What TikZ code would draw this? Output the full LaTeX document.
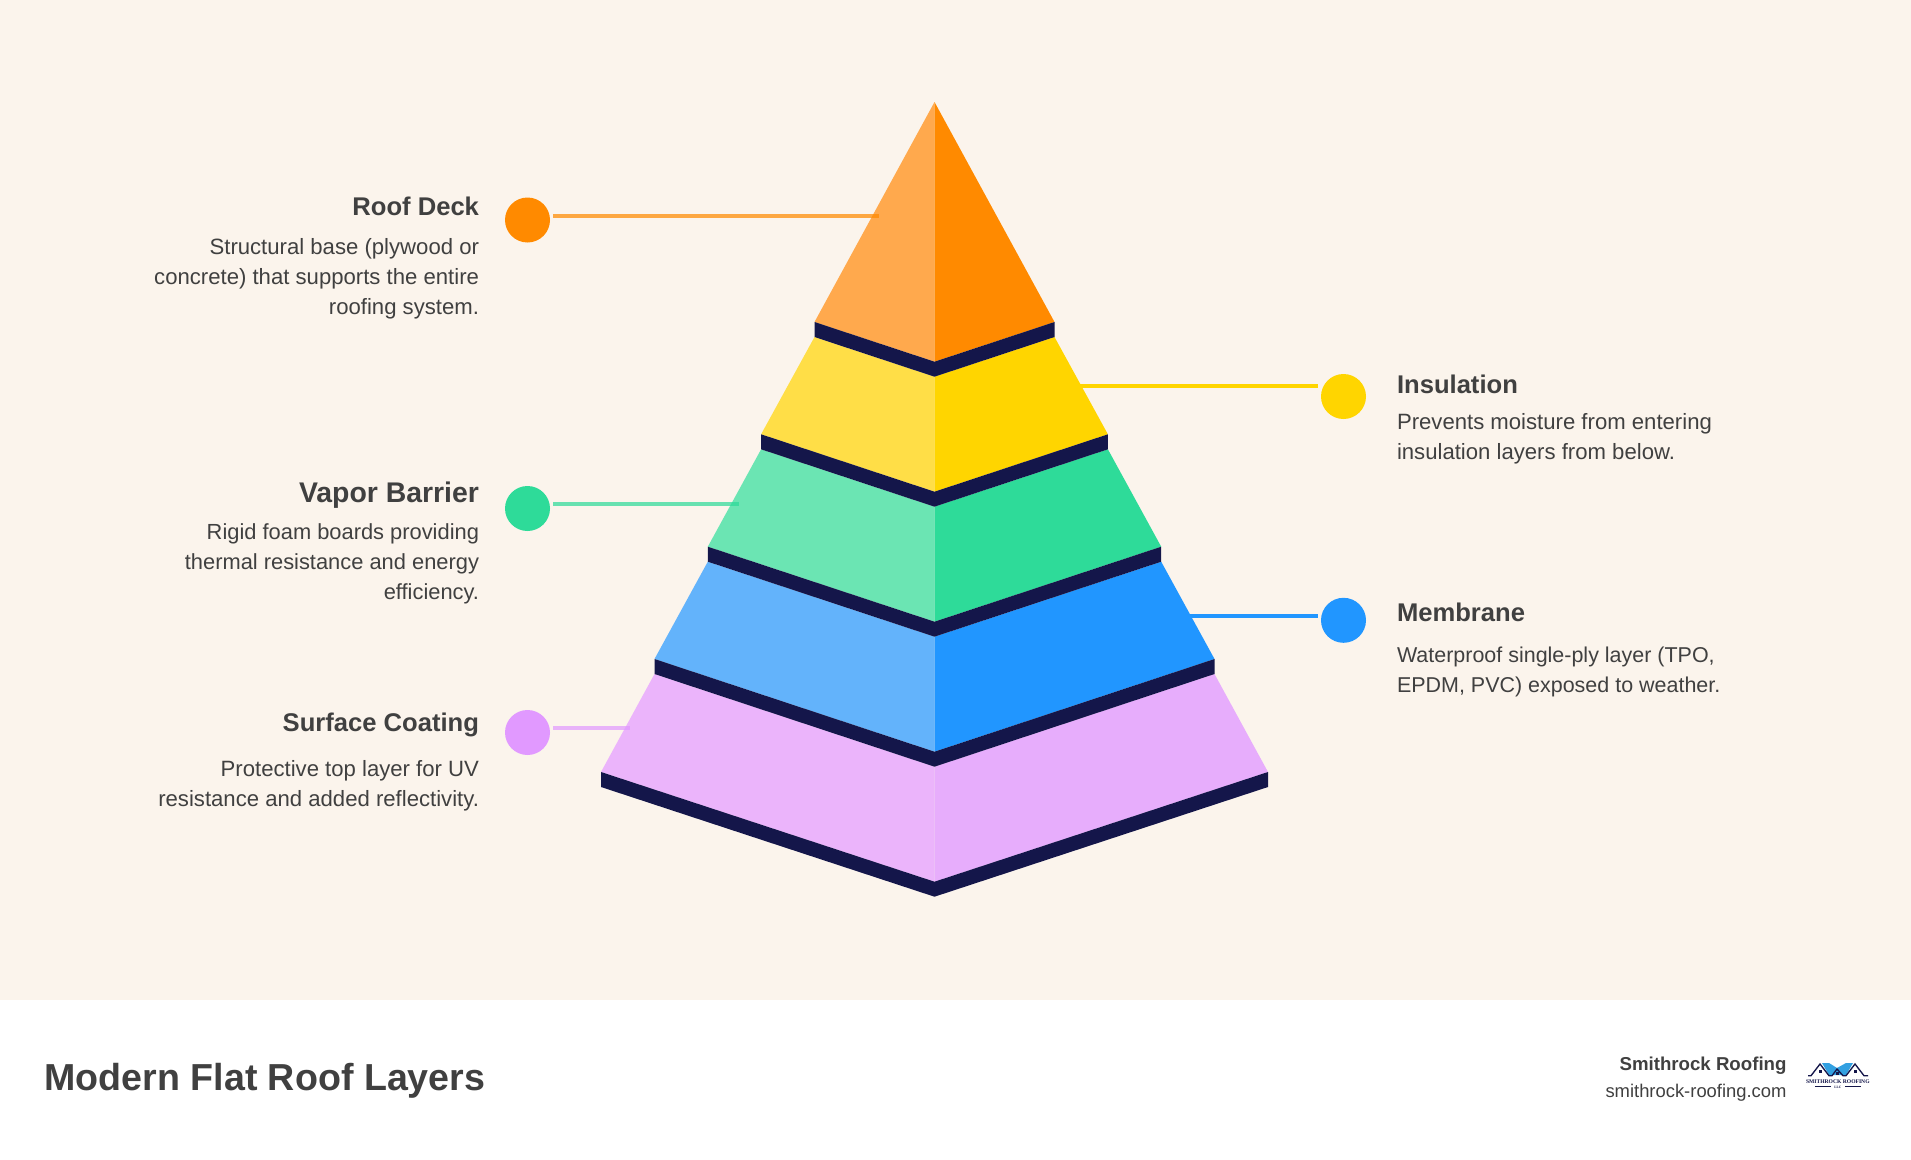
\documentclass[tikz,border=0pt]{standalone}
\usepackage{fontspec}
\setmainfont{Liberation Sans}
\newfontfamily\logofont{Liberation Serif}

\definecolor{pagebg}{RGB}{251,244,236}
\definecolor{inktext}{RGB}{64,64,64}
\definecolor{bandnavy}{RGB}{20,22,74}
\definecolor{deckleft}{RGB}{255,169,77}
\definecolor{deckright}{RGB}{255,138,0}
\definecolor{insulleft}{RGB}{255,222,71}
\definecolor{insulright}{RGB}{255,213,0}
\definecolor{vaporleft}{RGB}{107,229,179}
\definecolor{vaporright}{RGB}{46,219,153}
\definecolor{membleft}{RGB}{99,179,251}
\definecolor{membright}{RGB}{33,150,255}
\definecolor{coatleft}{RGB}{235,180,251}
\definecolor{coatright}{RGB}{231,173,252}
\definecolor{coatdot}{RGB}{225,153,255}
\definecolor{logoblue}{RGB}{50,160,225}

\tikzset{every picture/.style={line width=0.75pt},
  pindot/.style={circle,draw=none,inner sep=0pt,minimum size=33.75pt},
  lead/.style={line width=3pt,shorten <=1.9pt},
  softlead/.style={lead,opacity=0.72},
  headlabel/.style={inner sep=0pt,text=inktext,font=\fontsize{19.2}{23}\selectfont\bfseries},
  bodylabel/.style={inner sep=0pt,text=inktext,font=\fontsize{16.6}{22.5}\selectfont}
}

\begin{document}
\begin{tikzpicture}[x=0.75pt,y=0.75pt,yscale=-1,xscale=1]
        %set diagram size to the reference
        \useasboundingbox (0,0) rectangle (1911,1160);
        \fill [pagebg] (0,0) rectangle (1911,1000);
        \fill [white] (0,1000) rectangle (1911,1160);

        %Pyramid tiers, left and right faces
        \fill [deckleft] (934.5,102) -- (814.5,322) -- (934.5,361.7) -- cycle;
        \fill [deckright] (934.5,102) -- (1054.5,322) -- (934.5,361.7) -- cycle;
        \fill [insulleft] (814.5,337) -- (934.5,376.7) -- (934.5,491.7) -- (761.1,434.3) -- cycle;
        \fill [insulright] (1054.5,337) -- (934.5,376.7) -- (934.5,491.7) -- (1107.9,434.3) -- cycle;
        \fill [vaporleft] (761.1,449.3) -- (934.5,506.7) -- (934.5,621.7) -- (707.8,546.7) -- cycle;
        \fill [vaporright] (1107.9,449.3) -- (934.5,506.7) -- (934.5,621.7) -- (1161.2,546.7) -- cycle;
        \fill [membleft] (707.8,561.7) -- (934.5,636.7) -- (934.5,751.7) -- (654.5,659) -- cycle;
        \fill [membright] (1161.2,561.7) -- (934.5,636.7) -- (934.5,751.7) -- (1214.5,659) -- cycle;
        \fill [coatleft] (654.5,674) -- (934.5,766.7) -- (934.5,881.7) -- (601,772) -- cycle;
        \fill [coatright] (1214.5,674) -- (934.5,766.7) -- (934.5,881.7) -- (1268,772) -- cycle;

        %Dark bands under the tiers
        \fill [bandnavy] (814.5,322) -- (934.5,361.7) -- (1054.5,322) -- (1054.5,337) -- (934.5,376.7) -- (814.5,337) -- cycle;
        \fill [bandnavy] (761.1,434.3) -- (934.5,491.7) -- (1107.9,434.3) -- (1107.9,449.3) -- (934.5,506.7) -- (761.1,449.3) -- cycle;
        \fill [bandnavy] (707.8,546.7) -- (934.5,621.7) -- (1161.2,546.7) -- (1161.2,561.7) -- (934.5,636.7) -- (707.8,561.7) -- cycle;
        \fill [bandnavy] (654.5,659) -- (934.5,751.7) -- (1214.5,659) -- (1214.5,674) -- (934.5,766.7) -- (654.5,674) -- cycle;
        \fill [bandnavy] (601,772) -- (934.5,881.7) -- (1268,772) -- (1268,787) -- (934.5,896.7) -- (601,787) -- cycle;

        %Dots and line ends
        \node [pindot,fill=deckright] (deckdot) at (527.5,220) {};
        \node [pindot,fill=vaporright] (vapordot) at (527.5,508.5) {};
        \node [pindot,fill=coatdot] (coatdot) at (527.5,732.5) {};
        \node [pindot,fill=insulright] (insuldot) at (1343.5,396.5) {};
        \node [pindot,fill=membright] (membdot) at (1343.5,620.3) {};
        \coordinate (deckpin) at (879,216);
        \coordinate (vaporpin) at (739.3,503.7);
        \coordinate (coatpin) at (630,728);
        \coordinate (insulpin) at (1078.7,385.7);
        \coordinate (membpin) at (1188.5,615.7);

        %Straight Lines
        \draw [softlead,color=deckright] (deckdot.east |- deckpin) -- (deckpin);
        \draw [softlead,color=vaporright] (vapordot.east |- vaporpin) -- (vaporpin);
        \draw [softlead,color=coatdot] (coatdot.east |- coatpin) -- (coatpin);
        \draw [lead,color=insulright] (insuldot.west |- insulpin) -- (insulpin);
        \draw [lead,color=membright] (membdot.west |- membpin) -- (membpin);

        % Text Node
        \node [headlabel,anchor=base east] (deckhead) at (479.5,215.5) {Roof Deck};
        \node [bodylabel,anchor=base east,align=right] (deckbody) at (479.5,314) {Structural base (plywood or\\concrete) that supports the entire\\roofing system.};
        % Text Node
        \node [headlabel,font=\fontsize{21.3}{25}\selectfont\bfseries,anchor=base east] (vaporhead) at (479.5,502.7) {Vapor Barrier};
        \node [bodylabel,font=\fontsize{16.4}{22.5}\selectfont,anchor=base east,align=right] (vaporbody) at (479.5,599) {Rigid foam boards providing\\thermal resistance and energy\\efficiency.};
        % Text Node
        \node [headlabel,anchor=base east] (coathead) at (479.5,731.7) {Surface Coating};
        \node [bodylabel,anchor=base east,align=right] (coatbody) at (479.5,806) {Protective top layer for UV\\resistance and added reflectivity.};
        % Text Node
        \node [headlabel,anchor=base west] (insulhead) at (1396.5,393.7) {Insulation};
        \node [bodylabel,anchor=base west,align=left] (insulbody) at (1396.5,459) {Prevents moisture from entering\\insulation layers from below.};
        % Text Node
        \node [headlabel,anchor=base west] (membhead) at (1396.5,621.5) {Membrane};
        \node [bodylabel,font=\fontsize{16.1}{22.5}\selectfont,anchor=base west,align=left] (membbody) at (1396.5,692) {Waterproof single-ply layer (TPO,\\EPDM, PVC) exposed to weather.};

        % Footer
        \node [anchor=base west,inner sep=0pt,text=inktext,font=\fontsize{28.2}{32}\selectfont\bfseries] (maintitle) at (44,1090) {Modern Flat Roof Layers};
        \node [anchor=base east,inner sep=0pt,text=inktext,font=\fontsize{14}{17}\selectfont\bfseries] (brandname) at (1787,1070) {Smithrock Roofing};
        \node [anchor=base east,inner sep=0pt,text=inktext,font=\fontsize{13.8}{17}\selectfont] (brandurl) at (1787,1097) {smithrock-roofing.com};

        % Logo
        \fill [logoblue] (1822,1063) -- (1829,1063) -- (1837,1068) -- (1846,1063) -- (1853,1063) -- (1846,1075) -- (1829,1075) -- cycle;
        \draw [bandnavy,line width=1pt] (1808,1075.7) -- (1811,1075.7) -- (1820,1064) -- (1829,1075.7) -- (1832,1075.7) -- (1837,1069) -- (1843,1075.7) -- (1846,1075.7) -- (1855,1064) -- (1864,1075.7) -- (1868,1075.7);
        \fill [bandnavy] (1819,1070) rectangle (1821.5,1073);
        \fill [bandnavy] (1836,1072) rectangle (1838.5,1075);
        \fill [bandnavy] (1854,1070) rectangle (1856.5,1073);
        \node [anchor=base,inner sep=0pt,text=bandnavy,font=\logofont\fontsize{4.2}{5}\selectfont\bfseries] (logoname) at (1837.8,1083.4) {SMITHROCK ROOFING};
        \node [anchor=base,inner sep=0pt,text=bandnavy,font=\logofont\fontsize{2.6}{3}\selectfont\bfseries] (logollc) at (1837.8,1088.6) {LLC};
        \draw [bandnavy,line width=0.4pt] (1815,1086.5) -- (1831,1086.5);
        \draw [bandnavy,line width=0.4pt] (1845,1086.5) -- (1861,1086.5);
    \end{tikzpicture}
\end{document}
